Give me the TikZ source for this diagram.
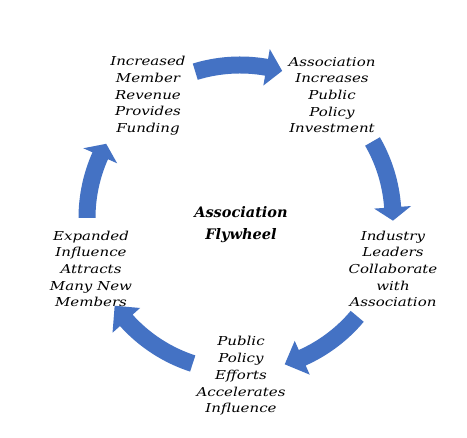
\documentclass[tikz,border=0pt]{standalone}
\usepackage{fontspec}
\setmainfont{DejaVu Serif}
\newfontfamily\lblfont[FakeStretch=1.22]{DejaVu Serif}
\usetikzlibrary{calc}
\definecolor{flyblue}{HTML}{4472C4}
\tikzset{
  lbl/.style={align=center, inner sep=0pt, font=\lblfont\itshape\fontsize{12.3}{16.7}\selectfont},
  ttl/.style={align=center, inner sep=0pt, font=\bfseries\itshape\fontsize{14.5}{22}\selectfont},
}
\begin{document}
\begin{tikzpicture}[x=1pt,y=1pt]
\useasboundingbox[fill=white] (0,0) rectangle (467,438);
\coordinate (C) at (240,220);
\def\R{153}\def\W{17}\def\H{37}
\foreach \a/\b/\t in {107/80/74, 30/4/-1, -40/-66/-73, -108/-138/-145, 180/156/151}{
  \fill[flyblue]
    ($(C)+(\a:\R+\W/2)$) arc[start angle=\a, end angle=\b, radius=\R+\W/2]
    -- ($(C)+(\b:\R+\H/2)$) -- ($(C)+(\t:\R)$) -- ($(C)+(\b:\R-\H/2)$)
    -- ($(C)+(\b:\R-\W/2)$) arc[start angle=\b, end angle=\a, radius=\R-\W/2]
    -- cycle;
}
\node[lbl] (n1) at (148,342) {Increased\\Member\\Revenue\\Provides\\Funding};
\node[lbl] (n2) at (332,343) {Association\\Increases\\Public\\Policy\\Investment};
\node[lbl] (n3) at (393,169) {Industry\\Leaders\\Collaborate\\with\\Association};
\node[lbl] (n4) at (241,62) {Public\\Policy\\Efforts\\Accelerates\\Influence};
\node[lbl] (n5) at (91,169) {Expanded\\Influence\\Attracts\\Many New\\Members};
\node[ttl] (t) at (241,213) {Association\\Flywheel};
\end{tikzpicture}
\end{document}
